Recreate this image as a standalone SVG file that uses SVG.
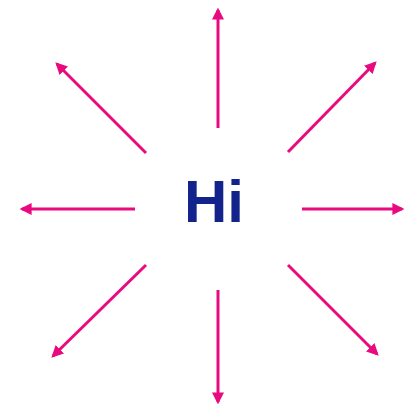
<svg xmlns="http://www.w3.org/2000/svg" width="405" height="407" viewBox="0 0 405 407">
<style>
.c{stroke:#ea0a80;stroke-width:3;fill:none;marker-end:url(#ah)}
.t{font-family:"Liberation Sans",Arial,sans-serif;font-weight:bold;font-size:60px;fill:#12238c}
</style>
<defs>
<marker id="ah" viewBox="0 0 10 10" refX="8" refY="5" markerWidth="4" markerHeight="4" orient="auto" markerUnits="strokeWidth">
<path d="M0,0 L10,5 L0,10 Z" fill="#ea0a80"/>
</marker>
</defs>
<rect width="405" height="407" fill="#fff"/>
<g id="connectors">
<line class="c" x1="218" y1="128" x2="218" y2="10"/>
<line class="c" x1="218" y1="290" x2="218" y2="402"/>
<line class="c" x1="135" y1="209" x2="22" y2="209"/>
<line class="c" x1="302" y1="209" x2="402" y2="209"/>
<line class="c" x1="146" y1="153" x2="57" y2="64"/>
<line class="c" x1="288" y1="152" x2="375" y2="63"/>
<line class="c" x1="146" y1="265" x2="53" y2="356"/>
<line class="c" x1="288" y1="265" x2="377" y2="354"/>
</g>
<g id="hi">
<text class="t" x="214" y="222" text-anchor="middle">Hi</text>
</g>
</svg>
